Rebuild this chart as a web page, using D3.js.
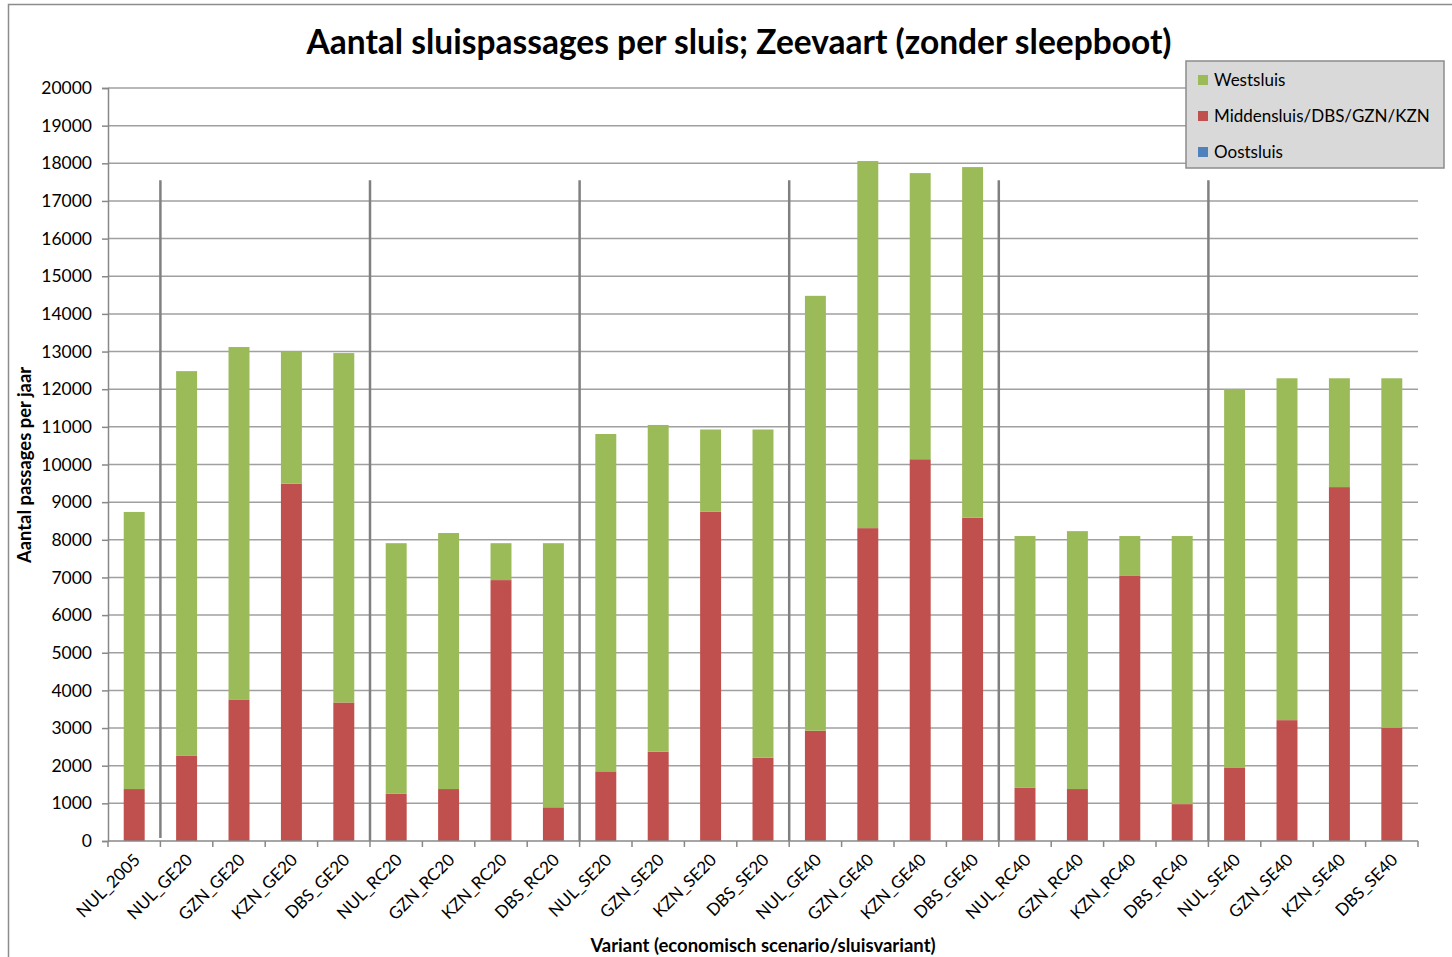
<!DOCTYPE html>
<html>
<head>
<meta charset="utf-8">
<script src="https://cdn.jsdelivr.net/npm/d3@7"></script>
<style>
  body { margin: 0; background: #fff; }
  svg text { font-family: Lato, "Open Sans", sans-serif; fill: #000; }
</style>
</head>
<body>
<div id="chart"></div>
<script>
// categorieen en waarden
const categories = ['NUL_2005', 'NUL_GE20', 'GZN_GE20', 'KZN_GE20', 'DBS_GE20',
  'NUL_RC20', 'GZN_RC20', 'KZN_RC20', 'DBS_RC20',
  'NUL_SE20', 'GZN_SE20', 'KZN_SE20', 'DBS_SE20',
  'NUL_GE40', 'GZN_GE40', 'KZN_GE40', 'DBS_GE40',
  'NUL_RC40', 'GZN_RC40', 'KZN_RC40', 'DBS_RC40',
  'NUL_SE40', 'GZN_SE40', 'KZN_SE40', 'DBS_SE40'];

const oostsluis = [0, 0, 0, 0, 0, 0, 0, 0, 0, 0, 0, 0, 0, 0, 0, 0, 0, 0, 0, 0, 0, 0, 0, 0, 0];
const middensluis = [1380, 2260, 3760, 9490, 3680, 1260, 1380, 6930, 895,
  1850, 2370, 8750, 2210, 2930, 8310, 10140, 8590,
  1420, 1380, 7040, 980, 1940, 3210, 9400, 3010];
const westsluis = [7360, 10220, 9360, 3510, 9280, 6650, 6800, 980, 7015,
  8960, 8680, 2180, 8720, 11550, 9750, 7600, 9310,
  6680, 6850, 1060, 7120, 10060, 9080, 2890, 9280];

const seriesNames = ['Oostsluis', 'Middensluis/DBS/GZN/KZN', 'Westsluis'];
const seriesColors = ['#4f81bd', '#c0504d', '#9bbb59'];
const legendOrder = ['Westsluis', 'Middensluis/DBS/GZN/KZN', 'Oostsluis'];

// scheidingslijnen tussen de scenariogroepen (na deze categorie-index)
const groupBreaks = [0, 4, 8, 12, 16, 20];
const breakTop = 17550;

const yTicks = d3.range(0, 20001, 1000);

const width = 1452, height = 957;
const margin = { top: 88, right: 34, bottom: 116, left: 108 };

const svg = d3.select('#chart').append('svg')
  .attr('width', width).attr('height', height);

// rand van de grafiek
svg.append('path')
  .attr('d', 'M8.5,957 L8.5,4.5 L1452,4.5')
  .attr('fill', 'none').attr('stroke', '#8c8c8c').attr('stroke-width', 1.5);

const x = d3.scaleBand().domain(categories)
  .range([margin.left, width - margin.right]).paddingInner(0.6).paddingOuter(0.3);
const y = d3.scaleLinear().domain([0, 20000]).range([height - margin.bottom, margin.top]);

// rasterlijnen
svg.append('g').selectAll('line').data(yTicks.slice(1)).join('line')
  .attr('x1', margin.left).attr('x2', width - margin.right)
  .attr('y1', d => y(d)).attr('y2', d => y(d))
  .attr('stroke', '#a0a0a0').attr('stroke-width', 1.5);

// gestapelde balken
const rows = categories.map((c, i) => ({
  cat: c, Oostsluis: oostsluis[i],
  'Middensluis/DBS/GZN/KZN': middensluis[i], Westsluis: westsluis[i]
}));
const stack = d3.stack().keys(seriesNames)(rows);

svg.append('g').selectAll('g').data(stack).join('g')
  .attr('fill', (d, i) => seriesColors[i])
  .selectAll('rect').data(d => d).join('rect')
  .attr('x', d => x(d.data.cat))
  .attr('width', x.bandwidth())
  .attr('y', d => y(d[1]))
  .attr('height', d => y(d[0]) - y(d[1]));

// verticale scheidingslijnen
const step = x.step();
svg.append('g').selectAll('line').data(groupBreaks).join('line')
  .attr('x1', d => x(categories[d]) + x.bandwidth() + (step - x.bandwidth()) / 2)
  .attr('x2', d => x(categories[d]) + x.bandwidth() + (step - x.bandwidth()) / 2)
  .attr('y1', y(breakTop))
  .attr('y2', (d, i) => i === 0 ? y(0) - 3 : y(0))
  .attr('stroke', '#808080').attr('stroke-width', 2.5);

// y-as
const yAxis = svg.append('g')
  .attr('transform', `translate(${margin.left},0)`)
  .call(d3.axisLeft(y).tickValues(yTicks).tickSize(6).tickPadding(10).tickFormat(d3.format('d')));
yAxis.selectAll('line, path').attr('stroke', '#888').attr('stroke-width', 1.5);
yAxis.selectAll('text').style('font-size', '17.5px').style('font-family', 'Lato, sans-serif').attr('fill', '#000');

// x-as
const bounds = d3.range(categories.length + 1).map(i => margin.left + i * step);
const xAxisG = svg.append('g');
xAxisG.append('line')
  .attr('x1', margin.left).attr('x2', width - margin.right)
  .attr('y1', y(0)).attr('y2', y(0))
  .attr('stroke', '#888').attr('stroke-width', 1.5);
xAxisG.selectAll('line.tick').data(bounds).join('line').attr('class', 'tick')
  .attr('x1', d => d).attr('x2', d => d)
  .attr('y1', y(0)).attr('y2', y(0) + 6)
  .attr('stroke', '#888').attr('stroke-width', 1.5);
xAxisG.selectAll('text').data(categories).join('text')
  .attr('transform', d => `translate(${x(d) + x.bandwidth() / 2 + 7},${y(0) + 20}) rotate(-45)`)
  .attr('text-anchor', 'end')
  .style('font-size', '17px')
  .text(d => d);

// titels
svg.append('text')
  .attr('x', 739).attr('y', 54)
  .attr('text-anchor', 'middle')
  .style('font-size', '33.5px').style('font-weight', 'bold')
  .text('Aantal sluispassages per sluis; Zeevaart (zonder sleepboot)');

svg.append('text')
  .attr('x', 763).attr('y', 952)
  .attr('text-anchor', 'middle')
  .style('font-size', '18.5px').style('font-weight', 'bold')
  .text('Variant (economisch  scenario/sluisvariant)');

svg.append('text')
  .attr('transform', 'translate(31,465) rotate(-90)')
  .attr('text-anchor', 'middle')
  .style('font-size', '18.4px').style('font-weight', 'bold')
  .text('Aantal passages  per jaar');

// legenda
const legend = svg.append('g').attr('transform', 'translate(1186,61)');
legend.append('rect')
  .attr('width', 258).attr('height', 107)
  .attr('fill', '#d9d9d9').attr('stroke', '#8c8c8c').attr('stroke-width', 1.5);
const item = legend.selectAll('g.item').data(legendOrder).join('g')
  .attr('class', 'item')
  .attr('transform', (d, i) => `translate(12,${19 + i * 36})`);
item.append('rect')
  .attr('y', -5).attr('width', 10).attr('height', 10)
  .attr('fill', d => seriesColors[seriesNames.indexOf(d)]);
item.append('text')
  .attr('x', 16).attr('y', 6)
  .style('font-size', '17px')
  .text(d => d);
</script>
</body>
</html>
